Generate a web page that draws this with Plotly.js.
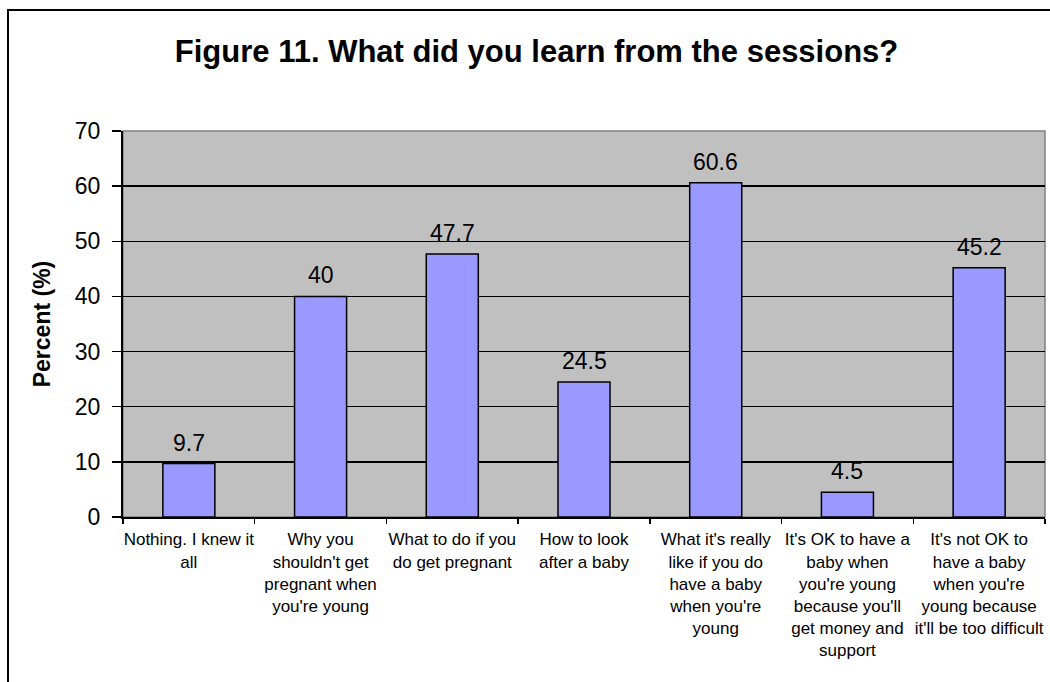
<!DOCTYPE html>
<html>
<head>
<meta charset="utf-8">
<script src="https://cdn.plot.ly/plotly-3.0.1.min.js"></script>
<style>
html,body{margin:0;padding:0;background:#fff;overflow:hidden;width:1050px;height:682px;}
#frame{position:absolute;left:7px;top:9px;width:1100px;height:760px;border:2px solid #000;box-sizing:border-box;}
#chart{position:absolute;left:0;top:0;width:1050px;height:682px;}
</style>
</head>
<body>
<div id="frame"></div>
<div id="chart"></div>
<script>
const categories = [
  "Nothing. I knew it<br>all",
  "Why you<br>shouldn't get<br>pregnant when<br>you're young",
  "What to do if you<br>do get pregnant",
  "How to look<br>after a baby",
  "What it's really<br>like if you do<br>have a baby<br>when you're<br>young",
  "It's OK to have a<br>baby when<br>you're young<br>because you'll<br>get money and<br>support",
  "It's not OK to<br>have a baby<br>when you're<br>young because<br>it'll be too difficult"
];
const percentValues = [9.7, 40, 47.7, 24.5, 60.6, 4.5, 45.2];
const valueLabels = ["9.7", "40", "47.7", "24.5", "60.6", "4.5", "45.2"];
const yTickValues = [0, 10, 20, 30, 40, 50, 60, 70];

const FONT = 'Arial, "Liberation Sans", sans-serif';

const trace = {
  type: 'bar',
  x: categories,
  y: percentValues,
  marker: {color: '#9999FF', line: {color: '#000', width: 1.5}},
  hoverinfo: 'none'
};

const labelAnnotations = categories.map((c, i) => ({
  x: c, y: percentValues[i], xref: 'x', yref: 'y',
  text: valueLabels[i], showarrow: false,
  xanchor: 'center', yanchor: 'bottom', yshift: 6,
  font: {family: FONT, size: 23, color: '#000'}
}));

const layout = {
  width: 1050, height: 682,
  margin: {l: 123, r: 5, t: 131, b: 165},
  paper_bgcolor: 'rgba(0,0,0,0)',
  plot_bgcolor: '#C0C0C0',
  bargap: 0.605,
  showlegend: false,
  font: {family: FONT, color: '#000'},
  title: {
    text: '<b>Figure 11. What did you learn from the sessions?</b>',
    font: {family: FONT, size: 31, color: '#000'},
    x: 0.511, xanchor: 'center', y: 0.925, yanchor: 'middle'
  },
  xaxis: {
    type: 'category',
    tickson: 'boundaries',
    ticks: 'outside', ticklen: 5, tickcolor: '#000', tickwidth: 1.5,
    showline: true, linecolor: '#000', linewidth: 2,
    showgrid: false,
    tickangle: 0,
    ticklabelstandoff: 6,
    tickfont: {family: FONT, size: 17, color: '#000'},
    automargin: false
  },
  yaxis: {
    range: [0, 70],
    tickvals: yTickValues,
    ticks: 'outside', ticklen: 9, tickcolor: '#000', tickwidth: 1.5,
    showline: true, linecolor: '#000', linewidth: 2,
    showgrid: true, gridcolor: '#000', gridwidth: 1.5,
    zeroline: false,
    ticklabelstandoff: 7,
    tickfont: {family: FONT, size: 23, color: '#000'},
    title: {text: '<b>Percent (%)</b>', font: {family: FONT, size: 23, color: '#000'}, standoff: 18},
    automargin: false
  },
  annotations: labelAnnotations,
  shapes: [{
    type: 'rect', xref: 'paper', yref: 'paper', x0: 0, x1: 1, y0: 0, y1: 1,
    line: {color: '#808080', width: 1.5}, layer: 'below'
  }]
};

Plotly.newPlot('chart', [trace], layout, {displayModeBar: false, staticPlot: true});
</script>
</body>
</html>
